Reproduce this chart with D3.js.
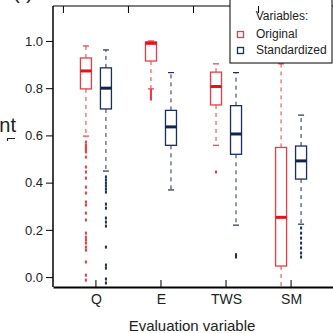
<!DOCTYPE html>
<html>
<head>
<meta charset="utf-8">
<script src="https://cdn.jsdelivr.net/npm/d3@7"></script>
<style>
	body { margin: 0; background: #fff; }
	svg { display: block; font-family: 'Liberation Sans', Arial, sans-serif; }
</style>
</head>
<body>
<script>
var width = 333,
	height = 333;

var categories = ['Q', 'E', 'TWS', 'SM'];
var yTicks = [0, 0.2, 0.4, 0.6, 0.8, 1.0];

// Original
var origLow = [0.597, 0.797, 0.558, -0.06],
	origQ1 = [0.797, 0.915, 0.729, 0.047],
	origMed = [0.873, 0.99, 0.807, 0.253],
	origQ3 = [0.928, 0.996, 0.868, 0.549],
	origHigh = [0.979, 1.0, 0.903, 0.903];
var origOut = [
	[0.572, 0.559, 0.551, 0.545, 0.538, 0.530, 0.508, 0.466, 0.445, 0.419, 0.381, 0.356, 0.318, 0.305,
	 0.271, 0.242, 0.186, 0.169, 0.157, 0.144, 0.127, 0.114, 0.064, 0.008, -0.013],
	[0.79, 0.78, 0.77, 0.76, 0.754],
	[0.445],
	[]
];

// Standardized
var stdLow = [0.449, 0.369, 0.22, 0.224],
	stdQ1 = [0.712, 0.558, 0.52, 0.415],
	stdMed = [0.80, 0.636, 0.606, 0.492],
	stdQ3 = [0.886, 0.706, 0.726, 0.555],
	stdHigh = [0.962, 0.866, 0.866, 0.686];
var stdOut = [
	[0.424, 0.411, 0.398, 0.386, 0.373, 0.36, 0.309, 0.292, 0.25, 0.233, 0.216, 0.127, 0.051, 0.038, -0.008, -0.025],
	[],
	[0.095, 0.085],
	[0.208, 0.186, 0.165, 0.144, 0.123, 0.102, 0.085]
];

var series = [
	{ name: 'Original', color: '#ee3b42', dark: '#e4141c', dx: -10, low: origLow, q1: origQ1, med: origMed, q3: origQ3, high: origHigh, out: origOut },
	{ name: 'Standardized', color: '#1c2d63', dark: '#13234f', dx: 10, low: stdLow, q1: stdQ1, med: stdMed, q3: stdQ3, high: stdHigh, out: stdOut }
];

var margin = { left: 53, right: 334, top: 6, bottom: 287 };

var x = d3.scalePoint()
	.domain(categories)
	.range([margin.left, margin.right])
	.padding(0.66);

var y = d3.scaleLinear()
	.domain([-0.042, 1.148])
	.range([margin.bottom, margin.top]);

var svg = d3.select('body')
	.append('svg')
	.attr('width', width)
	.attr('height', height);

svg.append('clipPath')
	.attr('id', 'plotClip')
	.append('rect')
	.attr('x', margin.left)
	.attr('y', margin.top)
	.attr('width', margin.right - margin.left)
	.attr('height', margin.bottom - margin.top);

var plot = svg.append('g').attr('clip-path', 'url(#plotClip)');

series.forEach(function(s) {
	var g = plot.append('g');
	categories.forEach(function(c, i) {
		var cx = x(c) + s.dx;
		// whiskers
		g.append('line')
			.attr('x1', cx).attr('x2', cx)
			.attr('y1', y(s.q3[i])).attr('y2', y(s.high[i]))
			.attr('stroke', s.color).attr('stroke-width', 1)
			.attr('stroke-dasharray', '4,4');
		g.append('line')
			.attr('x1', cx).attr('x2', cx)
			.attr('y1', y(s.q1[i])).attr('y2', y(s.low[i]))
			.attr('stroke', s.color).attr('stroke-width', 1)
			.attr('stroke-dasharray', '4,4');
		[s.low[i], s.high[i]].forEach(function(v) {
			g.append('line')
				.attr('x1', cx - 3).attr('x2', cx + 3)
				.attr('y1', y(v)).attr('y2', y(v))
				.attr('stroke', s.color).attr('stroke-width', 1.2);
		});
		// box
		g.append('rect')
			.attr('x', cx - 5.5)
			.attr('y', y(s.q3[i]))
			.attr('width', 11)
			.attr('height', y(s.q1[i]) - y(s.q3[i]))
			.attr('fill', 'none')
			.attr('stroke', s.color)
			.attr('stroke-width', 1.3);
		g.append('line')
			.attr('x1', cx - 5.5).attr('x2', cx + 5.5)
			.attr('y1', y(s.med[i])).attr('y2', y(s.med[i]))
			.attr('stroke', s.dark).attr('stroke-width', 3);
		// outliers
		g.selectAll(null)
			.data(s.out[i])
			.enter()
			.append('rect')
			.attr('x', cx - 1)
			.attr('y', function(d) { return y(d) - 1.5; })
			.attr('width', 2)
			.attr('height', 3)
			.attr('fill', s.color);
	});
});

// frame
svg.append('line')
	.attr('x1', margin.left).attr('x2', margin.right)
	.attr('y1', margin.top).attr('y2', margin.top)
	.attr('stroke', '#000').attr('stroke-width', 1.2);
svg.append('line')
	.attr('x1', margin.left).attr('x2', margin.left)
	.attr('y1', margin.top).attr('y2', margin.bottom)
	.attr('stroke', '#000').attr('stroke-width', 1.5);

// legend
var leg = svg.append('g');
leg.append('rect')
	.attr('x', 230).attr('y', -1)
	.attr('width', 102).attr('height', 64)
	.attr('fill', '#fff')
	.attr('stroke', '#000')
	.attr('stroke-width', 1);
leg.append('text')
	.attr('x', 282).attr('y', 20)
	.attr('text-anchor', 'middle')
	.attr('font-size', 12)
	.attr('fill', '#222')
	.text('Variables:');
series.forEach(function(s, i) {
	leg.append('rect')
		.attr('x', 237.5).attr('y', 31.5 + i * 16)
		.attr('width', 6).attr('height', 6)
		.attr('fill', '#fff')
		.attr('stroke', s.color)
		.attr('stroke-width', 1.3);
	leg.append('text')
		.attr('x', 256).attr('y', 38 + i * 16)
		.attr('font-size', 12)
		.attr('fill', '#222')
		.text(s.name);
});

// axes (drawn above the legend)
svg.append('g')
	.attr('transform', 'translate(' + margin.left + ',0)')
	.call(d3.axisLeft(y).tickValues(yTicks).tickFormat(d3.format('.1f')).tickSize(7).tickPadding(3))
	.call(function(g) {
		g.select('.domain').remove();
		g.selectAll('text').attr('font-size', 13).attr('fill', '#222').attr('font-family', null);
	});

svg.append('g')
	.attr('transform', 'translate(' + margin.right + ',0)')
	.call(d3.axisLeft(y).tickValues(yTicks).tickSize(6).tickFormat(''))
	.call(function(g) {
		g.select('.domain').remove();
		g.selectAll('line').attr('transform', 'translate(6,0)');
	});

svg.append('g')
	.attr('transform', 'translate(0,' + margin.bottom + ')')
	.call(d3.axisBottom(x).tickSize(0).tickPadding(7))
	.call(function(g) {
		g.select('.domain').attr('stroke-width', 2.2);
		g.selectAll('text').attr('font-size', 14).attr('fill', '#222').attr('font-family', null);
	});

svg.append('g')
	.selectAll('line')
	.data(categories)
	.enter()
	.append('line')
	.attr('x1', function(d) { return x(d); })
	.attr('x2', function(d) { return x(d); })
	.attr('y1', margin.bottom)
	.attr('y2', margin.bottom - 7)
	.attr('stroke', '#000');

svg.append('g')
	.selectAll('line')
	.data(categories)
	.enter()
	.append('line')
	.attr('x1', function(d) { return x(d) - x.step() / 2; })
	.attr('x2', function(d) { return x(d) - x.step() / 2; })
	.attr('y1', margin.top)
	.attr('y2', margin.top + 7)
	.attr('stroke', '#000');

// titles (cropped in the original figure)
svg.append('text')
	.attr('x', 192).attr('y', 331)
	.attr('text-anchor', 'middle')
	.attr('font-size', 15)
	.attr('fill', '#222')
	.text('Evaluation variable');

svg.append('text')
	.attr('x', 16).attr('y', 132)
	.attr('text-anchor', 'end')
	.attr('font-size', 20)
	.attr('fill', '#222')
	.text('nt');

svg.append('path')
	.attr('d', 'M7.5,141V138.5H15')
	.attr('fill', 'none')
	.attr('stroke', '#222')
	.attr('stroke-width', 1.2);

svg.append('text')
	.attr('x', 13).attr('y', -1)
	.attr('font-size', 20)
	.attr('fill', '#222')
	.text('(-)');
</script>
</body>
</html>
